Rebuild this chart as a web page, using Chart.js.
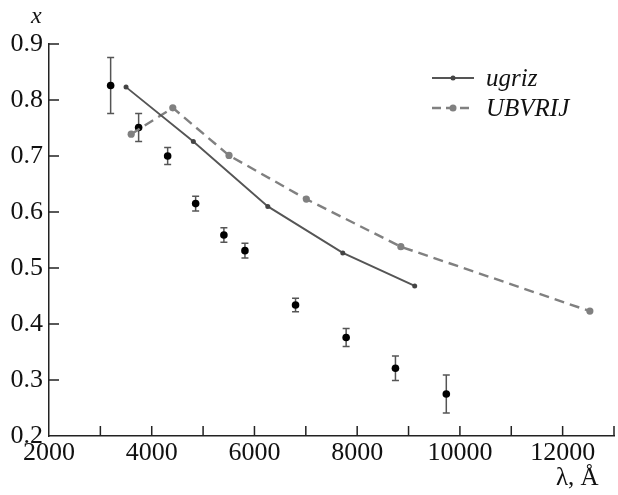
<!DOCTYPE html>
<html>
<head>
<meta charset="utf-8">
<script src="https://cdn.jsdelivr.net/npm/chart.js@4.4.0/dist/chart.umd.min.js"></script>
<style>
  body { margin: 0; background: #fff; font-family: "Liberation Serif", "Times New Roman", Times, "DejaVu Serif", serif; }
  #wrap { position: relative; width: 618px; height: 495px; }
  .lbl { position: absolute; color: #111; white-space: nowrap; }
  .it { font-style: italic; }
  #legend { position: absolute; left: 430px; top: 63px; }
  #legend .row { display: flex; align-items: center; height: 30px; font-size: 25px; font-style: italic; color: #111; }
  #legend svg { margin-right: 10px; }
</style>
</head>
<body>
<div id="wrap">
  <canvas id="chart"></canvas>
  <div class="lbl it" style="left:31px;top:2px;font-size:24px;">x</div>
  <div class="lbl" style="left:556px;top:463px;font-size:25px;">λ, Å</div>
  <div id="legend">
    <div class="row">
      <svg width="46" height="10"><line x1="2" y1="5" x2="44" y2="5" stroke="#555" stroke-width="2"/><circle cx="23" cy="5" r="2.5" fill="#444"/></svg>
      <span>ugriz</span>
    </div>
    <div class="row">
      <svg width="46" height="10"><line x1="2" y1="5" x2="44" y2="5" stroke="#808080" stroke-width="2.4" stroke-dasharray="9,5"/><circle cx="23" cy="5" r="3.5" fill="#808080"/></svg>
      <span>UBVRIJ</span>
    </div>
  </div>
</div>
<script>
// observed points with error bars
const obsLambda = [3200, 3745, 4310, 4855, 5405, 5815, 6800, 7785, 8745, 9735];
const obsX      = [0.826, 0.751, 0.700, 0.615, 0.559, 0.531, 0.434, 0.376, 0.321, 0.275];
const obsErr    = [0.050, 0.025, 0.015, 0.013, 0.013, 0.013, 0.012, 0.016, 0.022, 0.034];

// ugriz model
const ugrizLambda = [3500, 4810, 6260, 7720, 9120];
const ugrizX      = [0.823, 0.726, 0.610, 0.527, 0.468];

// UBVRIJ model
const ubvLambda = [3600, 4410, 5505, 7010, 8850, 12530];
const ubvX      = [0.739, 0.786, 0.701, 0.623, 0.538, 0.423];

const xTickLabels = [2000, 4000, 6000, 8000, 10000, 12000];

const serif = '"Liberation Serif", "Times New Roman", Times, serif';

function pts(xs, ys) {
  return xs.map(function (v, i) { return { x: v, y: ys[i] }; });
}

// error bars + inward tick marks
const extras = {
  id: 'extras',
  beforeDatasetsDraw: function (chart) {
    const ctx = chart.ctx;
    const xs = chart.scales.x, ys = chart.scales.y;
    ctx.save();
    ctx.strokeStyle = '#555';
    ctx.lineWidth = 1.5;
    obsLambda.forEach(function (l, i) {
      const px = xs.getPixelForValue(l);
      const top = ys.getPixelForValue(obsX[i] + obsErr[i]);
      const bot = ys.getPixelForValue(obsX[i] - obsErr[i]);
      ctx.beginPath();
      ctx.moveTo(px, top); ctx.lineTo(px, bot);
      ctx.moveTo(px - 3.5, top); ctx.lineTo(px + 3.5, top);
      ctx.moveTo(px - 3.5, bot); ctx.lineTo(px + 3.5, bot);
      ctx.stroke();
    });
    ctx.restore();
  },
  afterDraw: function (chart) {
    const ctx = chart.ctx;
    const xs = chart.scales.x, ys = chart.scales.y;
    const area = chart.chartArea;
    ctx.save();
    ctx.strokeStyle = '#222';
    ctx.lineWidth = 1.5;
    ctx.beginPath();
    xs.ticks.forEach(function (t) {
      if (t.value <= xs.min) return;
      const px = xs.getPixelForValue(t.value);
      ctx.moveTo(px, area.bottom); ctx.lineTo(px, area.bottom - 10);
    });
    ys.ticks.forEach(function (t) {
      if (t.value <= ys.min + 1e-9) return;
      const py = ys.getPixelForValue(t.value);
      ctx.moveTo(area.left, py); ctx.lineTo(area.left + 10, py);
    });
    ctx.stroke();
    ctx.restore();
  }
};

const ctx = document.getElementById('chart').getContext('2d');
new Chart(ctx, {
  type: 'scatter',
  data: {
    datasets: [
      {
        label: 'ugriz',
        data: pts(ugrizLambda, ugrizX),
        showLine: true,
        borderColor: '#555',
        borderWidth: 1.9,
        pointRadius: 2.5,
        pointBackgroundColor: '#444',
        pointBorderWidth: 0
      },
      {
        label: 'UBVRIJ',
        data: pts(ubvLambda, ubvX),
        showLine: true,
        borderColor: '#808080',
        borderWidth: 2.4,
        borderDash: [10, 6],
        pointRadius: 3.6,
        pointBackgroundColor: '#808080',
        pointBorderWidth: 0
      },
      {
        label: 'observed',
        data: pts(obsLambda, obsX),
        pointRadius: 3.8,
        pointBackgroundColor: '#000',
        pointBorderWidth: 0
      }
    ]
  },
  options: {
    responsive: true,
    maintainAspectRatio: false,
    animation: false,
    layout: { padding: { top: 44, right: 0, left: 0, bottom: 0 } },
    plugins: { legend: { display: false }, tooltip: { enabled: false } },
    scales: {
      x: {
        type: 'linear',
        min: 2000,
        max: 13000,
        afterFit: function (s) { s.height = 59; },
        border: { display: true, color: '#222', width: 1.5 },
        grid: { display: false, drawTicks: false },
        ticks: {
          stepSize: 1000,
          autoSkip: false,
          maxRotation: 0,
          padding: 2,
          color: '#111',
          font: { family: serif, size: 26 },
          callback: function (v) { return xTickLabels.indexOf(v) >= 0 ? String(v) : ''; }
        }
      },
      y: {
        min: 0.2,
        max: 0.9,
        afterFit: function (s) { s.width = 49; },
        border: { display: true, color: '#222', width: 1.5 },
        grid: { display: false, drawTicks: false },
        ticks: {
          stepSize: 0.1,
          padding: 6,
          color: '#111',
          font: { family: serif, size: 26 },
          callback: function (v) { return v.toFixed(1); }
        }
      }
    }
  },
  plugins: [extras]
});
</script>
</body>
</html>
